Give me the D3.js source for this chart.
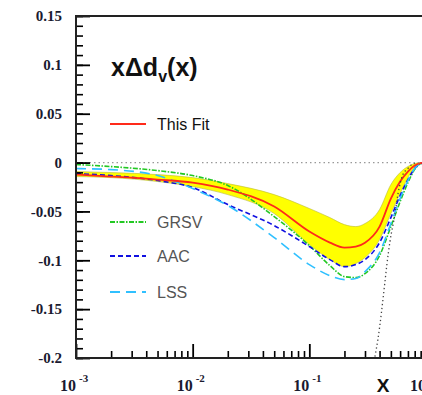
<!DOCTYPE html>
<html>
<head>
<meta charset="utf-8">
<script src="https://cdn.jsdelivr.net/npm/d3@7"></script>
<style>
    body { margin: 0; background: #fff; }
    svg { display: block; }
</style>
</head>
<body>
<div id="chart"></div>
<script>

    // x values shared by all curves
    var xs = [0.001, 0.002, 0.005, 0.01, 0.02, 0.05, 0.1, 0.15, 0.2, 0.25, 0.3, 0.4, 0.5, 0.6, 0.7, 0.8, 0.9, 1.0];

    // this fit, central value and error band
    var fitCentral = [-0.0123, -0.0143, -0.0174, -0.0205, -0.0276, -0.045, -0.0706, -0.0819, -0.087, -0.086, -0.082, -0.0655, -0.0368, -0.0194, -0.0092, -0.003, -0.0005, 0];
    var bandUpper  = [-0.0092, -0.0102, -0.0123, -0.0154, -0.0215, -0.0328, -0.047, -0.0563, -0.0635, -0.0655, -0.0624, -0.048, -0.0225, -0.0102, -0.004, -0.001, 0, 0];
    var bandLower  = [-0.0143, -0.0154, -0.0194, -0.0246, -0.0328, -0.0522, -0.0839, -0.0993, -0.1065, -0.1034, -0.0972, -0.0788, -0.0522, -0.0317, -0.0154, -0.005, -0.001, 0];

    // other parametrisations
    var grsv = [-0.002, -0.0041, -0.0082, -0.0133, -0.0235, -0.0553, -0.085, -0.1054, -0.1167, -0.1177, -0.1136, -0.0952, -0.0655, -0.04, -0.0205, -0.007, -0.001, 0];
    var aac  = [-0.0113, -0.0133, -0.0184, -0.0256, -0.043, -0.0645, -0.086, -0.0993, -0.1065, -0.1044, -0.0993, -0.0819, -0.0563, -0.0338, -0.0174, -0.006, -0.001, 0];
    var lss  = [-0.0061, -0.0072, -0.0133, -0.0266, -0.044, -0.0768, -0.1044, -0.1157, -0.1198, -0.1187, -0.1116, -0.0921, -0.0624, -0.0368, -0.0184, -0.006, -0.001, 0];

    // steep dotted bound near large x
    var boundX = [0.365, 0.387, 0.445, 0.462, 0.491, 0.541, 0.574, 0.634, 0.70, 0.757, 0.85];
    var boundY = [-0.1985, -0.181, -0.1218, -0.1044, -0.0809, -0.0532, -0.0327, -0.0123, -0.006, -0.002, 0];

    var yTicks = [0.15, 0.1, 0.05, 0, -0.05, -0.1, -0.15, -0.2];
    var yTickLabels = ["0.15", "0.1", "0.05", "0", "-0.05", "-0.1", "-0.15", "-0.2"];
    var xTicks = [0.001, 0.01, 0.1, 1];
    var xTickExps = ["-3", "-2", "-1", "0"];

    var legendNames = ["This Fit", "GRSV", "AAC", "LSS"];

    var w = 422, h = 395;
    var padL = 76, padR = 426, padT = 16, padB = 358;
    var serif = "'Liberation Serif', 'Times New Roman', serif";
    var sans = "'Liberation Sans', Arial, sans-serif";

    var xScale = d3.scaleLog().domain([0.001, 1]).range([padL, padR]);
    var yScale = d3.scaleLinear().domain([-0.2, 0.15]).range([padB, padT]);

    var svg = d3.select("#chart").append("svg")
        .attr("width", w)
        .attr("height", h);

    svg.append("clipPath").attr("id", "plotclip")
        .append("rect")
        .attr("x", padL).attr("y", padT)
        .attr("width", padR - padL).attr("height", padB - padT);

    var plot = svg.append("g").attr("clip-path", "url(#plotclip)");

    function toPts(ys) {
        return xs.map(function(x, i) { return [x, ys[i]]; });
    }

    var line = d3.line()
        .x(function(d) { return xScale(d[0]); })
        .y(function(d) { return yScale(d[1]); })
        .curve(d3.curveMonotoneX);

    // error band
    var band = d3.area()
        .x(function(d, i) { return xScale(xs[i]); })
        .y0(function(d, i) { return yScale(bandLower[i]); })
        .y1(function(d, i) { return yScale(bandUpper[i]); })
        .curve(d3.curveMonotoneX);

    plot.append("path")
        .datum(xs)
        .attr("d", band)
        .attr("fill", "#ffff00")
        .attr("stroke", "#b8b840")
        .attr("stroke-width", 0.6);

    var styles = [
        { data: fitCentral, color: "#ff2a1a", dash: null, width: 1.8 },
        { data: grsv, color: "#22c822", dash: "5,1.5,1.5,1.5", width: 1.6 },
        { data: aac, color: "#1010e0", dash: "5,3", width: 1.6 },
        { data: lss, color: "#30c0ff", dash: "10,6", width: 1.6 }
    ];

    // draw others first, fit on top of band
    [1, 2, 3, 0].forEach(function(k) {
        var s = styles[k];
        plot.append("path")
            .datum(toPts(s.data))
            .attr("d", line)
            .attr("fill", "none")
            .attr("stroke", s.color)
            .attr("stroke-width", s.width)
            .attr("stroke-dasharray", s.dash);
    });

    // dotted bound
    plot.append("path")
        .datum(boundX.map(function(x, i) { return [x, boundY[i]]; }))
        .attr("d", line)
        .attr("fill", "none")
        .attr("stroke", "#444")
        .attr("stroke-width", 1.3)
        .attr("stroke-dasharray", "1.3,2.7");

    // zero line
    plot.append("line")
        .attr("x1", padL).attr("x2", padR)
        .attr("y1", yScale(0)).attr("y2", yScale(0))
        .attr("stroke", "#999")
        .attr("stroke-width", 1.3)
        .attr("stroke-dasharray", "1.5,3");

    // axes
    var yMinor = d3.range(-20, 16).map(function(i) { return i / 100; });
    svg.append("g")
        .attr("transform", "translate(" + padL + ",0)")
        .call(d3.axisLeft(yScale).tickValues(yMinor).tickSize(-7).tickFormat(""))
        .call(function(g) { g.select(".domain").remove(); g.selectAll("line").attr("stroke", "#000").attr("stroke-width", 1.6); });

    var yAxis = svg.append("g")
        .attr("transform", "translate(" + padL + ",0)")
        .call(d3.axisLeft(yScale).tickValues(yTicks).tickSize(-14).tickPadding(14)
            .tickFormat(function(d, i) { return yTickLabels[i]; }));
    yAxis.select(".domain").remove();
    yAxis.selectAll("line").attr("stroke", "#000").attr("stroke-width", 1.8);
    yAxis.selectAll("text")
        .style("font-family", serif)
        .style("font-weight", "bold")
        .style("font-size", "15px")
        .attr("fill", "#1a1a30");

    var xMinor = [];
    [0.001, 0.01, 0.1].forEach(function(dec) {
        for (var m = 2; m <= 9; m++) xMinor.push(dec * m);
    });
    svg.append("g")
        .attr("transform", "translate(0," + padB + ")")
        .call(d3.axisBottom(xScale).tickValues(xMinor).tickSize(-7).tickFormat(""))
        .call(function(g) { g.select(".domain").remove(); g.selectAll("line").attr("stroke", "#000").attr("stroke-width", 1.6); });

    var xAxis = svg.append("g")
        .attr("transform", "translate(0," + padB + ")")
        .call(d3.axisBottom(xScale).tickValues(xTicks).tickSize(-14).tickFormat(""));
    xAxis.select(".domain").remove();
    xAxis.selectAll("line").attr("stroke", "#000").attr("stroke-width", 1.8);

    xTicks.forEach(function(t, i) {
        var lab = svg.append("text")
            .attr("x", Math.min(xScale(t) - 16, 420))
            .attr("y", 391)
            .style("font-family", serif)
            .style("font-weight", "bold")
            .style("font-size", "16px")
            .attr("fill", "#1a1a30");
        lab.append("tspan").text("10");
        lab.append("tspan").attr("dx", 3).attr("dy", -9).style("font-size", "11px").text(xTickExps[i]);
    });

    // frame
    svg.append("rect")
        .attr("x", padL).attr("y", padT)
        .attr("width", padR - padL).attr("height", padB - padT)
        .attr("fill", "none")
        .attr("stroke", "#222")
        .attr("stroke-width", 2);

    // x axis title
    svg.append("text")
        .attr("x", 383).attr("y", 392)
        .attr("text-anchor", "middle")
        .style("font-family", sans)
        .style("font-weight", "bold")
        .style("font-size", "19px")
        .attr("fill", "#111")
        .text("X");

    // title
    var title = svg.append("text")
        .attr("x", 111).attr("y", 76)
        .style("font-family", sans)
        .style("font-weight", "bold")
        .style("font-size", "25px")
        .attr("fill", "#111");
    title.append("tspan").text("x\u0394d");
    title.append("tspan").attr("dy", 6).style("font-size", "16px").text("v");
    title.append("tspan").attr("dy", -6).text("(x)");

    // legend
    var legendY = [124, 222, 256, 292];
    legendNames.forEach(function(name, i) {
        var s = styles[i];
        svg.append("line")
            .attr("x1", 110).attr("x2", 146)
            .attr("y1", legendY[i]).attr("y2", legendY[i])
            .attr("stroke", s.color)
            .attr("stroke-width", 1.8)
            .attr("stroke-dasharray", s.dash);
        svg.append("text")
            .attr("x", 157).attr("y", legendY[i] + 6)
            .style("font-family", sans)
            .style("font-size", "16px")
            .attr("fill", i === 0 ? "#111" : "#555")
            .text(name);
    });

</script>
</body>
</html>
